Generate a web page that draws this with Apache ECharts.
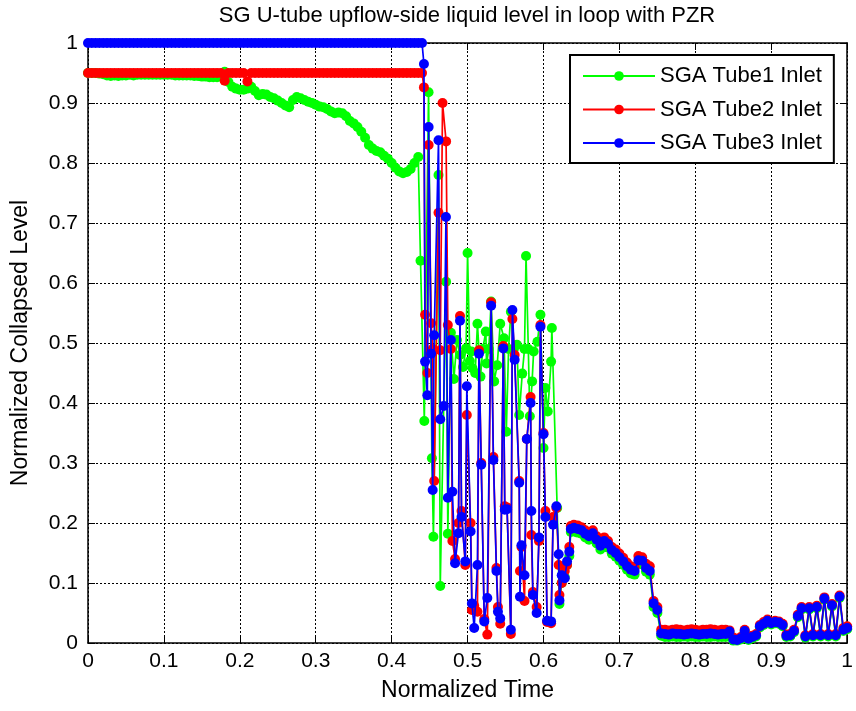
<!DOCTYPE html>
<html>
<head>
<meta charset="utf-8">
<script src="https://cdn.jsdelivr.net/npm/echarts@6/dist/echarts.min.js"></script>
<style>html,body{margin:0;padding:0;background:#fff;}#chart{width:856px;height:711px;}</style>
</head>
<body>
<div id="chart"></div>
<script>
const seriesNames = ['SGA Tube1 Inlet', 'SGA Tube2 Inlet', 'SGA Tube3 Inlet'];
const xTicks = [0, 0.1, 0.2, 0.3, 0.4, 0.5, 0.6, 0.7, 0.8, 0.9, 1];
const yTicks = [0, 0.1, 0.2, 0.3, 0.4, 0.5, 0.6, 0.7, 0.8, 0.9, 1];

const timeHead = [0,0.005,0.01,0.015,0.02,0.025,0.03,0.035,0.04,0.045,
0.05,0.055,0.06,0.065,0.07,0.075,0.08,0.085,0.09,0.095,
0.1,0.105,0.11,0.115,0.12,0.125,0.13,0.135,0.14,0.145,
0.15,0.155,0.16,0.165,0.17,0.175,0.18,0.185,0.19,0.195,
0.2,0.205,0.21,0.215,0.22,0.225,0.23,0.235,0.24,0.245,
0.25,0.255,0.26,0.265,0.27,0.275,0.28,0.285,0.29,0.295,
0.3,0.305,0.31,0.315,0.32,0.325,0.33,0.335,0.34,0.345,
0.35,0.355,0.36,0.365,0.37,0.375,0.38,0.385,0.39,0.395,
0.4,0.405,0.41,0.415,0.42,0.425,0.43,0.435];

const timeTail = [0.64,0.645,0.65,0.655,0.66,0.665,0.67,0.675,0.68,0.685,
0.69,0.695,0.7,0.705,0.71,0.715,0.72,0.725,0.73,0.735,
0.74,0.745,0.75,0.755,0.76,0.765,0.77,0.775,0.78,0.785,
0.79,0.795,0.8,0.805,0.81,0.815,0.82,0.825,0.83,0.835,
0.84,0.845,0.85,0.855,0.86,0.865,0.87,0.875,0.88,0.885,
0.89,0.895,0.9,0.905,0.91,0.915,0.92,0.925,0.93,0.935,
0.94,0.945,0.95,0.955,0.96,0.965,0.97,0.975,0.98,0.985,
0.99,0.995,1];

// Tube1 (green)
const tube1Head = [0.95,0.95,0.95,0.949,0.948,0.946,0.945,0.946,0.945,0.946,
0.946,0.947,0.946,0.947,0.947,0.947,0.947,0.947,0.947,0.947,
0.947,0.947,0.947,0.946,0.946,0.946,0.946,0.946,0.945,0.945,
0.944,0.944,0.943,0.943,0.943,0.944,0.952,0.935,0.927,0.924,
0.922,0.922,0.924,0.927,0.92,0.913,0.915,0.914,0.91,0.908,
0.904,0.9,0.896,0.893,0.905,0.91,0.908,0.905,0.902,0.9,
0.897,0.894,0.893,0.89,0.886,0.883,0.884,0.883,0.878,0.87,
0.866,0.86,0.852,0.842,0.83,0.824,0.82,0.818,0.812,0.807,
0.8,0.792,0.786,0.783,0.785,0.79,0.8,0.81];
const tube1MidTime = [0.438,0.443,0.4486,0.453,0.455,0.4617,0.464,0.4717,0.474,0.478,
0.482,0.486,0.49,0.494,0.498,0.5,0.503,0.505,0.5065,0.51,
0.513,0.517,0.52,0.524,0.525,0.528,0.531,0.535,0.539,0.543,
0.548,0.551,0.554,0.557,0.561,0.565,0.568,0.572,0.575,0.577,
0.58,0.582,0.585,0.587,0.592,0.596,0.6,0.6025,0.6056,0.61,
0.611,0.618,0.621,0.624,0.628,0.631,0.634,0.636];
const tube1MidLevel = [0.637,0.37,0.918,0.308,0.177,0.78,0.095,0.602,0.182,0.517,
0.44,0.505,0.48,0.46,0.491,0.65,0.47,0.486,0.458,0.45,
0.532,0.444,0.49,0.519,0.466,0.49,0.569,0.436,0.463,0.532,
0.508,0.352,0.49,0.552,0.49,0.497,0.38,0.449,0.49,0.645,
0.49,0.378,0.436,0.486,0.502,0.547,0.325,0.425,0.386,0.469,
0.525,0.225,0.065,0.1,0.11,0.13,0.145,0.185];
const tube1Tail = [0.186,0.184,0.182,0.176,0.172,0.177,0.166,0.156,0.164,0.159,
0.149,0.144,0.137,0.13,0.122,0.116,0.114,0.132,0.131,0.119,
0.114,0.06,0.05,0.012,0.01,0.01,0.011,0.01,0.01,0.011,
0.01,0.011,0.01,0.01,0.011,0.01,0.01,0.011,0.01,0.01,
0.01,0.017,0.004,0.004,0.006,0.018,0.005,0.008,0.011,0.026,
0.03,0.035,0.031,0.033,0.032,0.028,0.01,0.011,0.018,0.043,
0.056,0.009,0.056,0.011,0.058,0.011,0.072,0.011,0.061,0.011,
0.075,0.02,0.023];

// Tube2 (red)
const tube2Head = [0.95,0.95,0.95,0.95,0.95,0.95,0.95,0.95,0.95,0.95,
0.95,0.95,0.95,0.95,0.95,0.95,0.95,0.95,0.95,0.95,
0.95,0.95,0.95,0.95,0.95,0.95,0.95,0.95,0.95,0.95,
0.95,0.95,0.95,0.95,0.95,0.95,0.937,0.95,0.95,0.95,
0.95,0.95,0.936,0.95,0.95,0.95,0.95,0.95,0.95,0.95,
0.95,0.95,0.95,0.95,0.95,0.95,0.95,0.95,0.95,0.95,
0.95,0.95,0.95,0.95,0.95,0.95,0.95,0.95,0.95,0.95,
0.95,0.95,0.95,0.95,0.95,0.95,0.95,0.95,0.95,0.95,
0.95,0.95,0.95,0.95,0.95,0.95,0.95,0.95];
const tube2MidTime = [0.44,0.4425,0.444,0.447,0.4487,0.452,0.454,0.456,0.4617,0.464,
0.467,0.4717,0.474,0.478,0.48,0.4835,0.488,0.49,0.492,0.497,
0.499,0.504,0.5057,0.5087,0.513,0.515,0.518,0.522,0.526,0.531,
0.534,0.538,0.54,0.543,0.547,0.549,0.552,0.557,0.559,0.562,
0.568,0.569,0.571,0.575,0.578,0.583,0.584,0.586,0.591,0.594,
0.596,0.6,0.6025,0.6047,0.61,0.6126,0.617,0.62,0.621,0.624,
0.628,0.631,0.634,0.636];
const tube2MidLevel = [0.95,0.926,0.547,0.45,0.83,0.533,0.49,0.27,0.717,0.488,
0.9,0.836,0.53,0.49,0.17,0.14,0.2,0.545,0.22,0.13,
0.38,0.2,0.055,0.062,0.052,0.488,0.3,0.04,0.014,0.568,
0.31,0.125,0.06,0.032,0.495,0.228,0.226,0.015,0.54,0.48,
0.27,0.12,0.16,0.07,0.34,0.41,0.18,0.085,0.06,0.17,
0.53,0.35,0.22,0.035,0.033,0.21,0.225,0.13,0.08,0.1,
0.12,0.13,0.16,0.195];
const tube2Tail = [0.197,0.196,0.193,0.188,0.184,0.188,0.178,0.168,0.176,0.17,
0.16,0.156,0.149,0.142,0.134,0.128,0.126,0.145,0.143,0.132,
0.128,0.07,0.06,0.022,0.022,0.021,0.022,0.023,0.022,0.021,
0.022,0.023,0.022,0.021,0.022,0.022,0.023,0.022,0.021,0.022,
0.022,0.021,0.009,0.007,0.01,0.022,0.009,0.012,0.015,0.03,
0.035,0.039,0.035,0.037,0.036,0.032,0.014,0.015,0.022,0.047,
0.06,0.013,0.06,0.015,0.062,0.015,0.076,0.015,0.065,0.015,
0.079,0.025,0.028];

// Tube3 (blue)
const tube3Head = [1,1,1,1,1,1,1,1,1,1,
1,1,1,1,1,1,1,1,1,1,
1,1,1,1,1,1,1,1,1,1,
1,1,1,1,1,1,1,1,1,1,
1,1,1,1,1,1,1,1,1,1,
1,1,1,1,1,1,1,1,1,1,
1,1,1,1,1,1,1,1,1,1,
1,1,1,1,1,1,1,1,1,1,
1,1,1,1,1,1,1,1];
const tube3MidTime = [0.44,0.4425,0.444,0.447,0.4487,0.452,0.454,0.456,0.4617,0.464,
0.4686,0.4715,0.474,0.478,0.48,0.4835,0.488,0.49,0.492,0.497,
0.499,0.504,0.5057,0.5087,0.513,0.515,0.518,0.522,0.526,0.531,
0.534,0.538,0.54,0.543,0.547,0.549,0.552,0.557,0.559,0.562,
0.568,0.569,0.571,0.575,0.578,0.583,0.584,0.586,0.591,0.594,
0.596,0.6,0.6025,0.6047,0.61,0.6126,0.617,0.62,0.621,0.624,
0.628,0.631,0.634,0.636];
const tube3MidLevel = [1,0.965,0.469,0.413,0.86,0.482,0.255,0.513,0.838,0.373,
0.395,0.71,0.242,0.505,0.252,0.133,0.183,0.537,0.21,0.136,
0.428,0.186,0.066,0.025,0.13,0.482,0.297,0.036,0.075,0.562,
0.305,0.12,0.052,0.041,0.491,0.222,0.223,0.022,0.555,0.472,
0.267,0.077,0.163,0.113,0.34,0.4,0.22,0.08,0.05,0.176,
0.527,0.348,0.21,0.037,0.036,0.197,0.228,0.148,0.071,0.113,
0.108,0.136,0.152,0.19];
const tube3Tail = [0.192,0.19,0.188,0.182,0.178,0.183,0.172,0.162,0.17,0.165,
0.155,0.15,0.143,0.136,0.128,0.122,0.12,0.138,0.137,0.125,
0.12,0.066,0.055,0.016,0.015,0.014,0.016,0.015,0.015,0.014,
0.015,0.016,0.015,0.014,0.015,0.015,0.016,0.015,0.014,0.015,
0.015,0.019,0.006,0.005,0.008,0.02,0.007,0.01,0.013,0.028,
0.032,0.037,0.033,0.035,0.034,0.03,0.012,0.013,0.02,0.045,
0.058,0.011,0.058,0.013,0.06,0.013,0.074,0.013,0.063,0.013,
0.077,0.022,0.025];

function pairs(times, levels) { return times.map((t, i) => [t, levels[i]]); }
function build(head, midT, midL, tail) {
  return pairs(timeHead, head).concat(pairs(midT, midL), pairs(timeTail, tail));
}
const colors = ['#00ff00', '#ff0000', '#0000ff'];
const dataSets = [
  build(tube1Head, tube1MidTime, tube1MidLevel, tube1Tail),
  build(tube2Head, tube2MidTime, tube2MidLevel, tube2Tail),
  build(tube3Head, tube3MidTime, tube3MidLevel, tube3Tail)
];

const FONT = 'Liberation Sans, Arial, sans-serif';
const chart = echarts.init(document.getElementById('chart'));
const gridLine = { show: true, lineStyle: { color: '#000', width: 1, type: [2, 2] } };
const axisLine = { show: true, onZero: false, lineStyle: { color: '#000', width: 1.5 } };
const tick = { show: true, inside: true, length: 7, lineStyle: { color: '#000', width: 1 } };

chart.setOption({
  animation: false,
  backgroundColor: '#fff',
  title: {
    text: 'SG U-tube upflow-side liquid level in loop with PZR',
    left: 467, top: 5, padding: 0, textAlign: 'center',
    textStyle: { fontFamily: FONT, fontSize: 22, fontWeight: 'normal', color: '#000' }
  },
  legend: {
    data: seriesNames,
    orient: 'vertical',
    left: 570, top: 55,
    padding: [10, 12, 9, 12],
    itemGap: 11.5,
    itemWidth: 72, itemHeight: 12,
    backgroundColor: '#fff',
    borderColor: '#000', borderWidth: 2,
    textStyle: { fontFamily: FONT, fontSize: 22, color: '#000' }
  },
  grid: { left: 88, right: 4, top: 43, bottom: 68, containLabel: false },
  xAxis: [{
    type: 'value', min: xTicks[0], max: xTicks[xTicks.length - 1], interval: 0.1,
    position: 'bottom',
    name: 'Normalized Time', nameLocation: 'middle', nameGap: 36,
    nameTextStyle: { fontFamily: FONT, fontSize: 23, color: '#000' },
    axisLine: axisLine, axisTick: tick,
    axisLabel: { fontFamily: FONT, fontSize: 21, color: '#000', margin: 8,
      formatter: v => String(+v.toFixed(1)) },
    splitLine: gridLine
  }, {
    type: 'value', min: xTicks[0], max: xTicks[xTicks.length - 1], interval: 0.1,
    position: 'top', axisLine: axisLine, axisTick: tick,
    axisLabel: { show: false }, splitLine: { show: false }
  }],
  yAxis: [{
    type: 'value', min: yTicks[0], max: yTicks[yTicks.length - 1], interval: 0.1,
    position: 'left',
    name: 'Normalized Collapsed Level', nameLocation: 'middle', nameGap: 56,
    nameTextStyle: { fontFamily: FONT, fontSize: 23, color: '#000' },
    axisLine: axisLine, axisTick: tick,
    axisLabel: { fontFamily: FONT, fontSize: 21, color: '#000', margin: 10,
      formatter: v => String(+v.toFixed(1)) },
    splitLine: gridLine
  }, {
    type: 'value', min: yTicks[0], max: yTicks[yTicks.length - 1], interval: 0.1,
    position: 'right', axisLine: axisLine, axisTick: tick,
    axisLabel: { show: false }, splitLine: { show: false }
  }],
  series: seriesNames.map((name, i) => ({
    name: name, type: 'line', xAxisIndex: 0, yAxisIndex: 0,
    data: dataSets[i],
    symbol: 'circle', symbolSize: 10, showAllSymbol: true,
    color: colors[i],
    lineStyle: { color: colors[i], width: 1.7 },
    itemStyle: { color: colors[i] },
    z: 2 + i
  }))
});
</script>
</body>
</html>
